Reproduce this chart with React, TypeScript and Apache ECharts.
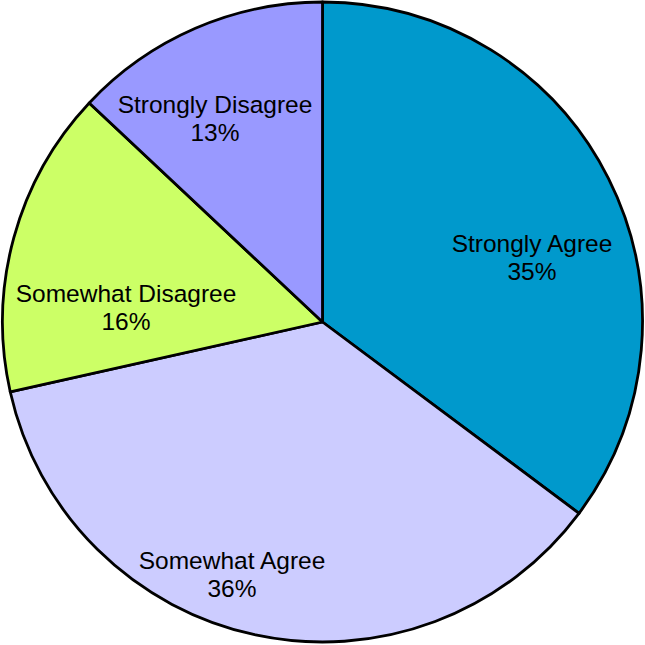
import React, { useEffect, useRef } from "react";
import * as echarts from "echarts";

const categories = ["Strongly Agree", "Somewhat Agree", "Somewhat Disagree", "Strongly Disagree"];
const values = [35.2, 36.3, 15.5, 13.0];
const colors = ["#0099CC", "#CCCCFF", "#CCFF66", "#9999FF"];
const labelPositions: [number, number][] = [
  [532, 257],
  [232, 574],
  [126, 307],
  [215, 118],
];

export default function App() {
  const ref = useRef<HTMLDivElement>(null);
  useEffect(() => {
    document.body.style.margin = "0";
    const chart = echarts.init(ref.current!, null, { renderer: "svg" });
    chart.setOption({
      animation: false,
      backgroundColor: "#ffffff",
      series: [
        {
          type: "pie",
          center: [322.5, 322],
          radius: [0, 320],
          startAngle: 90,
          clockwise: true,
          percentPrecision: 0,
          data: categories.map((name, i) => ({
            name,
            value: values[i],
            itemStyle: { color: colors[i] },
          })),
          itemStyle: { borderColor: "#000000", borderWidth: 2.8 },
          label: {
            show: true,
            position: "inside",
            formatter: "{b}\n{d}%",
            color: "#000000",
            fontFamily: "Liberation Sans, Arial, sans-serif",
            fontSize: 24.5,
            lineHeight: 28,
            align: "center",
            verticalAlign: "middle",
          },
          labelLine: { show: false },
          labelLayout: (params: any) => {
            const p = labelPositions[params.dataIndex];
            return { x: p[0], y: p[1], align: "center", verticalAlign: "middle" };
          },
          emphasis: { disabled: true },
        },
      ],
    });
    return () => chart.dispose();
  }, []);
  return <div ref={ref} style={{ width: 645, height: 645 }} />;
}
